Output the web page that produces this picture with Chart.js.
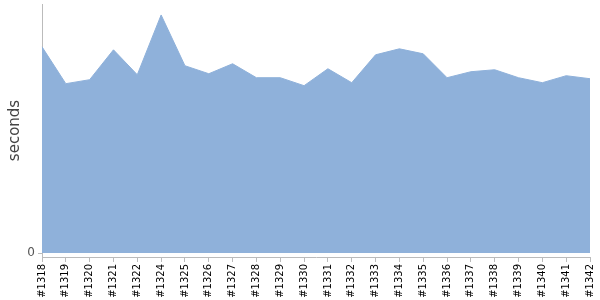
<!DOCTYPE html>
<html>
<head>
<meta charset="utf-8">
<script src="https://cdn.jsdelivr.net/npm/chart.js@4/dist/chart.umd.min.js"></script>
<style>
  body { margin: 0; background: #fff; }
  #wrap { width: 600px; height: 300px; }
</style>
</head>
<body>
<div id="wrap"><canvas id="myChart"></canvas></div>
<script>
// build numbers
const builds = ['#1318', '#1319', '#1320', '#1321', '#1322', '#1324', '#1325', '#1326',
  '#1327', '#1328', '#1329', '#1330', '#1331', '#1332', '#1333', '#1334', '#1335',
  '#1336', '#1337', '#1338', '#1339', '#1340', '#1341', '#1342'];
// duration in seconds
const durations = [20.7, 17.0, 17.4, 20.4, 17.9, 23.9, 18.8, 18.0, 19.0, 17.6, 17.6, 16.8,
  18.5, 17.1, 19.9, 20.5, 20.0, 17.6, 18.2, 18.4, 17.6, 17.1, 17.8, 17.5];
const yTicks = [0];

const ctx = document.getElementById('myChart');

new Chart(ctx, {
  type: 'line',
  data: {
    labels: builds,
    datasets: [{
      label: 'seconds',
      data: durations,
      fill: 'origin',
      backgroundColor: '#8fb1da',
      borderColor: '#8fb1da',
      borderWidth: 1,
      pointRadius: 0,
      tension: 0
    }]
  },
  options: {
    responsive: true,
    maintainAspectRatio: false,
    animation: false,
    layout: { padding: 0 },
    plugins: {
      legend: { display: false },
      tooltip: { enabled: false }
    },
    scales: {
      x: {
        offset: false,
        grid: { drawOnChartArea: false, drawTicks: true, tickLength: 5, color: '#bbb' },
        border: { color: '#bbb' },
        ticks: {
          autoSkip: false,
          maxRotation: 90,
          minRotation: 90,
          padding: 2,
          color: '#000',
          font: { family: 'DejaVu Sans', size: 10 }
        },
        afterFit: s => { s.height = 43; s.paddingRight = 10; s.paddingLeft = 0; }
      },
      y: {
        min: -0.4,
        max: 25,
        afterBuildTicks: s => { s.ticks = yTicks.map(v => ({ value: v })); },
        grid: { drawOnChartArea: false, drawTicks: true, tickLength: 4, color: '#bbb' },
        border: { color: '#bbb' },
        ticks: {
          color: '#555',
          padding: 3,
          font: { family: 'DejaVu Sans', size: 12 }
        },
        title: {
          display: true,
          text: 'seconds',
          color: '#444',
          padding: { top: 6, bottom: 0 },
          font: { family: 'DejaVu Sans', size: 15 }
        },
        afterFit: s => { s.width = 42; s.paddingTop = 4; s.paddingBottom = 0; }
      }
    }
  }
});
</script>
</body>
</html>
